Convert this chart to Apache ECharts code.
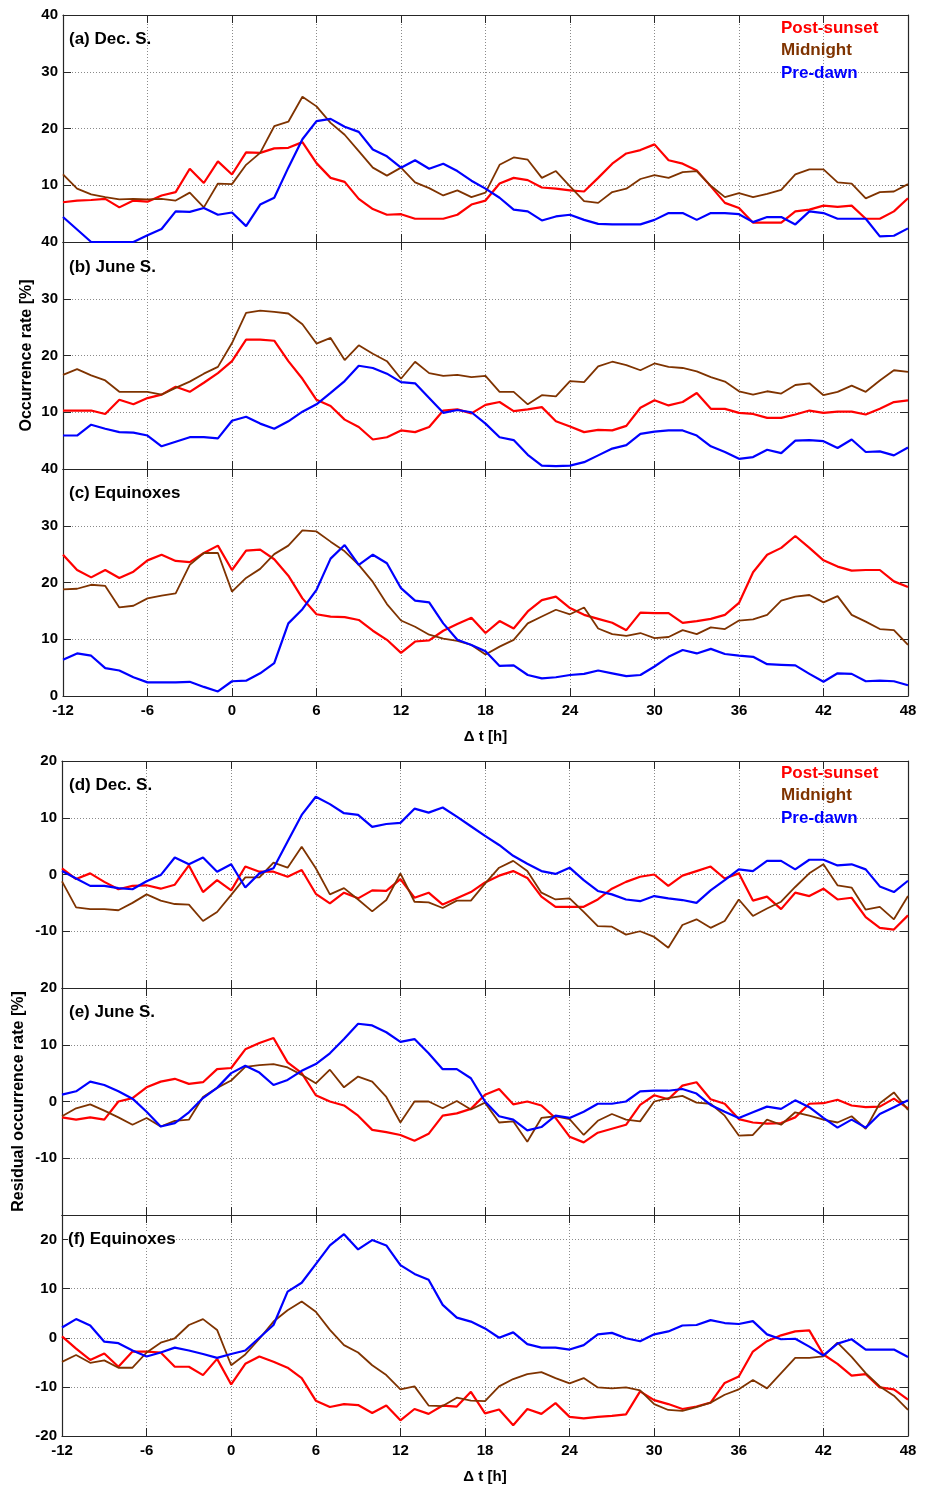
<!DOCTYPE html>
<html>
<head>
<meta charset="utf-8">
<script src="https://cdn.jsdelivr.net/npm/echarts@6/dist/echarts.min.js"></script>
<style>
  html, body { margin: 0; padding: 0; background: #fff; }
  #main { width: 926px; height: 1485px; }
</style>
</head>
<body>
<div id="main"></div>
<script>
const hours = [-12, -11, -10, -9, -8, -7, -6, -5, -4, -3, -2, -1, 0, 1, 2, 3, 4, 5, 6, 7,
  8, 9, 10, 11, 12, 13, 14, 15, 16, 17, 18, 19, 20, 21, 22, 23, 24, 25, 26, 27,
  28, 29, 30, 31, 32, 33, 34, 35, 36, 37, 38, 39, 40, 41, 42, 43, 44, 45, 46, 47, 48];

const seriesNames = ['Post-sunset', 'Midnight', 'Pre-dawn'];

// occurrence rate [%]
const decPost = [7.0, 7.3, 7.4, 7.6, 6.1, 7.3, 7.1, 8.2, 8.8, 12.9,
  10.4, 14.2, 11.9, 15.8, 15.7, 16.5, 16.6, 17.6, 13.9, 11.3,
  10.6, 7.6, 5.8, 4.8, 4.9, 4.1, 4.1, 4.1, 4.8, 6.6,
  7.3, 10.3, 11.3, 10.9, 9.6, 9.4, 9.1, 8.9, 11.3, 13.8,
  15.6, 16.2, 17.2, 14.4, 13.8, 12.6, 9.8, 6.9, 6.0, 3.4,
  3.4, 3.4, 5.4, 5.7, 6.4, 6.2, 6.4, 4.1, 4.1, 5.4, 7.7];
const decMid = [11.9, 9.4, 8.4, 7.9, 7.5, 7.6, 7.5, 7.6, 7.3, 8.7,
  6.1, 10.3, 10.2, 13.6, 15.7, 20.4, 21.2, 25.6, 23.9, 21.0,
  18.9, 16.0, 13.1, 11.7, 13.1, 10.5, 9.5, 8.2, 9.1, 7.9,
  8.7, 13.6, 14.9, 14.5, 11.3, 12.5, 9.8, 7.2, 6.9, 8.8,
  9.4, 11.1, 11.8, 11.3, 12.3, 12.5, 9.9, 7.9, 8.6, 7.9,
  8.5, 9.2, 11.9, 12.8, 12.8, 10.5, 10.3, 7.7, 8.8, 8.9, 10.2];
const decPre = [4.4, 2.2, 0, 0, 0, 0, 1.2, 2.3, 5.4, 5.3,
  6.0, 4.8, 5.2, 2.8, 6.6, 7.8, 13.1, 18.1, 21.3, 21.7,
  20.3, 19.4, 16.3, 15.1, 13.1, 14.4, 12.9, 13.8, 12.5, 10.8,
  9.4, 7.8, 5.7, 5.4, 3.8, 4.5, 4.8, 3.9, 3.2, 3.1,
  3.1, 3.1, 3.9, 5.1, 5.1, 3.9, 5.1, 5.1, 4.9, 3.5,
  4.4, 4.4, 3.1, 5.4, 5.1, 4.1, 4.1, 4.1, 1.0, 1.1, 2.4];

const junPost = [10.3, 10.3, 10.3, 9.7, 12.2, 11.4, 12.5, 13.1, 14.5, 13.6,
  15.2, 16.9, 19.0, 22.8, 22.8, 22.6, 19.0, 15.9, 12.2, 11.1,
  8.7, 7.4, 5.2, 5.6, 6.8, 6.5, 7.4, 10.3, 10.5, 9.8,
  11.3, 11.8, 10.2, 10.5, 10.9, 8.4, 7.5, 6.5, 6.9, 6.8,
  7.6, 10.8, 12.1, 11.2, 11.8, 13.4, 10.6, 10.6, 9.9, 9.7,
  9.0, 9.0, 9.6, 10.3, 9.9, 10.1, 10.1, 9.6, 10.6, 11.8, 12.1];
const junMid = [16.6, 17.6, 16.5, 15.6, 13.6, 13.6, 13.6, 13.1, 14.3, 15.4,
  16.8, 18.0, 22.2, 27.5, 27.9, 27.7, 27.4, 25.5, 22.1, 23.1,
  19.2, 21.8, 20.3, 19.0, 15.9, 18.9, 16.9, 16.4, 16.6, 16.2,
  16.4, 13.6, 13.6, 11.4, 13.0, 12.8, 15.5, 15.3, 18.1, 18.9,
  18.3, 17.4, 18.6, 18.0, 17.8, 17.2, 16.2, 15.4, 13.7, 13.1,
  13.7, 13.3, 14.8, 15.1, 13.0, 13.6, 14.7, 13.6, 15.6, 17.4, 17.1];
const junPre = [5.9, 5.9, 7.8, 7.1, 6.5, 6.4, 5.9, 4.0, 4.8, 5.6,
  5.6, 5.4, 8.5, 9.2, 8.0, 7.1, 8.4, 10.1, 11.4, 13.4,
  15.5, 18.2, 17.8, 16.8, 15.3, 15.1, 12.5, 9.9, 10.4, 10.0,
  8.0, 5.6, 5.1, 2.5, 0.6, 0.5, 0.6, 1.2, 2.4, 3.6,
  4.2, 6.2, 6.6, 6.8, 6.8, 5.9, 4.0, 3.0, 1.8, 2.1,
  3.4, 2.8, 5.0, 5.1, 4.9, 3.7, 5.2, 3.0, 3.1, 2.4, 3.8];

const eqxPost = [24.9, 22.2, 20.9, 22.2, 20.8, 21.9, 23.9, 24.9, 23.8, 23.6,
  25.2, 26.5, 22.2, 25.6, 25.8, 24.1, 21.2, 17.2, 14.4, 14.0,
  13.9, 13.4, 11.5, 9.9, 7.6, 9.6, 9.8, 11.5, 12.7, 13.8,
  11.1, 13.2, 11.9, 14.9, 16.9, 17.5, 15.5, 14.3, 13.6, 12.9,
  11.6, 14.7, 14.6, 14.6, 12.9, 13.2, 13.6, 14.3, 16.4, 21.8,
  24.9, 26.1, 28.2, 26.1, 23.9, 22.8, 22.1, 22.2, 22.2, 20.2, 19.2];
const eqxMid = [18.8, 18.9, 19.6, 19.4, 15.6, 15.9, 17.2, 17.7, 18.1, 23.1,
  25.2, 25.2, 18.4, 20.8, 22.4, 25.0, 26.5, 29.2, 29.0, 27.2,
  25.5, 23.1, 20.1, 16.2, 13.3, 12.2, 10.8, 10.1, 9.7, 9.0,
  7.3, 8.7, 9.9, 12.8, 14.0, 15.2, 14.4, 15.6, 11.9, 10.9,
  10.6, 11.1, 10.2, 10.4, 11.6, 10.9, 12.1, 11.8, 13.3, 13.5,
  14.3, 16.8, 17.5, 17.8, 16.5, 17.6, 14.3, 13.1, 11.8, 11.6, 9.0];
const eqxPre = [6.4, 7.5, 7.1, 4.9, 4.5, 3.3, 2.4, 2.4, 2.4, 2.5,
  1.6, 0.8, 2.6, 2.7, 4.0, 5.8, 12.8, 15.3, 18.7, 24.2,
  26.6, 23.1, 24.9, 23.4, 19.0, 16.8, 16.5, 12.8, 9.9, 9.0,
  7.9, 5.3, 5.4, 3.7, 3.1, 3.3, 3.7, 3.9, 4.5, 4.0,
  3.5, 3.7, 5.2, 6.9, 8.1, 7.5, 8.3, 7.4, 7.1, 6.9,
  5.6, 5.5, 5.4, 3.9, 2.5, 4.0, 3.9, 2.6, 2.7, 2.6, 1.9];

// residual occurrence rate [%]
const resDecPost = [1.1, -0.8, 0.2, -1.3, -2.6, -2.0, -1.9, -2.5, -1.8, 1.6,
  -3.1, -1.0, -2.8, 1.4, 0.5, 0.5, -0.4, 0.8, -3.4, -5.1,
  -3.2, -4.2, -2.8, -2.9, -0.8, -4.1, -3.2, -5.3, -4.2, -3.1,
  -1.4, -0.2, 0.6, -0.6, -3.9, -5.7, -5.7, -5.7, -4.4, -2.5,
  -1.3, -0.4, 0, -2.0, -0.2, 0.6, 1.4, -0.7, 0.2, -4.6,
  -3.9, -6.1, -3.2, -3.8, -2.5, -4.4, -4.1, -7.5, -9.4, -9.7, -7.2];
const resDecMid = [-1.2, -5.8, -6.1, -6.1, -6.3, -5.0, -3.5, -4.6, -5.2, -5.3,
  -8.2, -6.6, -3.6, -0.5, -0.5, 2.1, 1.2, 4.9, 1.1, -3.5,
  -2.4, -4.4, -6.5, -4.5, 0.2, -4.8, -4.9, -5.9, -4.6, -4.6,
  -1.6, 1.2, 2.4, 0.6, -3.2, -4.4, -4.2, -6.6, -9.1, -9.2,
  -10.6, -10.0, -11.0, -12.9, -8.9, -7.9, -9.4, -8.2, -4.4, -7.3,
  -6.0, -4.8, -2.2, 0.2, 1.8, -1.9, -2.3, -6.2, -5.7, -7.9, -3.8];
const resDecPre = [0.6, -0.7, -2.0, -2.0, -2.4, -2.6, -1.2, -0.1, 3.0, 1.8,
  3.0, 0.5, 1.8, -2.3, 0.2, 1.1, 5.8, 10.5, 13.7, 12.4,
  10.8, 10.5, 8.4, 8.9, 9.1, 11.6, 10.9, 11.8, 10.2, 8.5,
  6.8, 5.2, 3.3, 1.9, 0.6, 0.1, 1.2, -1.0, -2.9, -3.5,
  -4.4, -4.7, -3.8, -4.2, -4.5, -5.0, -2.8, -1.0, 0.9, 0.6,
  2.4, 2.4, 0.9, 2.6, 2.6, 1.6, 1.8, 0.9, -2.1, -3.1, -1.1];

const resJunPost = [-2.8, -3.2, -2.8, -3.2, 0, 0.6, 2.5, 3.5, 4.0, 3.1,
  3.4, 5.7, 5.9, 9.2, 10.3, 11.2, 6.9, 5.0, 1.1, 0,
  -0.7, -2.5, -5.0, -5.4, -5.9, -6.9, -5.7, -2.5, -2.1, -1.3,
  1.2, 2.2, -0.5, 0, -0.7, -2.9, -6.2, -7.2, -5.5, -4.8,
  -4.1, -0.6, 1.1, 0.4, 2.8, 3.4, 0.4, -0.4, -3.1, -3.7,
  -3.9, -3.8, -2.8, -0.4, -0.3, 0.3, -0.7, -1.0, -0.9, 0.5, -1.2];
const resJunMid = [-2.6, -1.2, -0.5, -1.6, -2.8, -4.1, -2.9, -4.4, -3.4, -3.2,
  0.8, 2.4, 3.7, 6.1, 6.4, 6.6, 6.0, 4.7, 3.2, 5.6,
  2.5, 4.4, 3.5, 0.8, -3.7, 0, 0, -1.2, 0.1, -1.4,
  -0.2, -3.7, -3.5, -7.1, -2.9, -2.6, -3.1, -5.9, -3.4, -2.2,
  -3.2, -3.5, 0, 0.6, 1.0, -0.2, -0.4, -2.5, -6.0, -5.9,
  -3.2, -4.1, -1.9, -2.5, -3.2, -3.7, -2.6, -4.8, -0.3, 1.6, -1.5];
const resJunPre = [1.2, 1.8, 3.5, 2.9, 1.8, 0.5, -1.8, -4.4, -3.8, -1.9,
  0.6, 2.4, 5.0, 6.3, 5.1, 2.9, 3.8, 5.4, 6.6, 8.5,
  11.0, 13.7, 13.4, 12.2, 10.5, 11.0, 8.5, 5.7, 5.7, 4.1,
  0, -2.6, -3.2, -5.1, -4.5, -2.5, -2.9, -1.8, -0.4, -0.4,
  0, 1.8, 1.9, 1.9, 2.2, 1.4, -0.6, -1.8, -2.9, -1.9,
  -0.9, -1.3, 0.2, -1.0, -2.9, -4.6, -3.2, -4.6, -2.2, -1.0, 0.2];

const resEqxPost = [0.3, -2.2, -4.5, -3.2, -5.9, -2.8, -2.8, -3.0, -5.9, -5.9,
  -7.6, -4.3, -9.5, -5.3, -3.8, -4.9, -6.1, -8.2, -12.8, -14.1,
  -13.5, -13.7, -15.3, -13.8, -16.8, -14.5, -15.5, -13.8, -14.0, -11.0,
  -15.4, -14.6, -17.8, -14.5, -15.5, -13.3, -16.1, -16.4, -16.1, -15.9,
  -15.6, -10.9, -12.7, -13.5, -14.5, -14.0, -13.2, -9.2, -7.9, -2.8,
  -0.7, 0.5, 1.3, 1.5, -3.4, -5.3, -7.7, -7.4, -10.1, -10.5, -12.6];
const resEqxMid = [-4.9, -3.5, -5.1, -4.6, -6.1, -6.1, -3.0, -1.0, -0.1, 2.6,
  3.8, 1.6, -5.6, -3.4, -0.2, 3.3, 5.6, 7.4, 5.3, 1.6,
  -1.5, -3.0, -5.6, -7.6, -10.5, -9.9, -13.8, -13.9, -12.2, -12.8,
  -12.9, -9.9, -8.4, -7.4, -7.0, -8.2, -9.3, -8.2, -10.1, -10.3,
  -10.1, -10.7, -13.5, -14.7, -14.9, -14.1, -13.2, -11.6, -10.5, -8.6,
  -10.3, -7.2, -4.1, -4.1, -3.8, -1.0, -3.9, -7.2, -9.9, -11.8, -14.7];
const resEqxPre = [2.1, 3.8, 2.5, -0.8, -1.1, -2.6, -3.8, -3.0, -2.0, -2.6,
  -3.3, -4.1, -3.3, -2.6, 0, 2.6, 9.4, 11.2, 15.0, 18.8,
  21.1, 18.0, 19.9, 18.8, 14.8, 13.0, 11.8, 6.7, 4.1, 3.3,
  1.9, 0, 1.1, -1.3, -2.0, -2.0, -2.4, -1.5, 0.7, 1.0,
  -0.1, -0.7, 0.7, 1.3, 2.5, 2.6, 3.6, 3.0, 2.8, 3.4,
  0.7, -0.3, -0.2, -1.8, -3.6, -1.2, -0.3, -2.4, -2.4, -2.4, -3.9];

const panels = [
  { label: '(a) Dec. S.', min: 0, max: 40, lines: [decPost, decMid, decPre] },
  { label: '(b) June S.', min: 0, max: 40, lines: [junPost, junMid, junPre] },
  { label: '(c) Equinoxes', min: 0, max: 40, lines: [eqxPost, eqxMid, eqxPre] },
  { label: '(d) Dec. S.', min: -20, max: 20, lines: [resDecPost, resDecMid, resDecPre] },
  { label: '(e) June S.', min: -20, max: 20, lines: [resJunPost, resJunMid, resJunPre] },
  { label: '(f) Equinoxes', min: -20, max: 25, lines: [resEqxPost, resEqxMid, resEqxPre] },
];

const font = '"Liberation Sans", Arial, sans-serif';
const colors = ['#ff0000', '#7f3300', '#0000ff'];
const widths = [2.2, 1.8, 2.2];
const frame = '#262626';

const boxes = [
  { left: 63, top: 15, width: 845, height: 227 },
  { left: 63, top: 242, width: 845, height: 227 },
  { left: 63, top: 469, width: 845, height: 227 },
  { left: 62, top: 761, width: 846, height: 227 },
  { left: 62, top: 988, width: 846, height: 227 },
  { left: 62, top: 1215, width: 846, height: 228 },
];
const labelTops = [31, 258.5, 485, 776.5, 1004, 1231];
const labelLefts = [69, 69, 69, 69, 69, 68];

const tick = { show: true, inside: true, length: 8, lineStyle: { color: frame, width: 1 } };
const line = { show: true, onZero: false, lineStyle: { color: frame, width: 1.2 } };
const grid = { show: true, lineStyle: { color: '#8a8a8a', width: 1, type: [1, 2] } };
const bold = { color: '#000', fontFamily: font, fontWeight: 'bold', fontSize: 15 };
const big = Object.assign({}, bold, { fontSize: 17 });
const axisTitle = Object.assign({}, bold, { fontSize: 16 });

const xAxis = [], yAxis = [], series = [], title = [];

panels.forEach((p, i) => {
  const withX = i === 2 || i === 5;
  xAxis.push({
    gridIndex: i, type: 'value', min: -12, max: 48, interval: 6,
    axisLine: line, axisTick: tick, splitLine: grid,
    axisLabel: Object.assign({ show: withX, margin: 7 }, bold),
    name: withX ? 'Δ t [h]' : '', nameLocation: 'middle', nameGap: 33,
    nameTextStyle: bold,
  });
  yAxis.push({
    gridIndex: i, type: 'value', min: p.min, max: p.max, interval: 10,
    axisLine: line, axisTick: tick, splitLine: grid,
    axisLabel: Object.assign({ margin: 5, showMinLabel: i === 2 || i === 5, showMaxLabel: i !== 5 }, bold),
    name: i === 1 ? 'Occurrence rate [%]' : (i === 4 ? 'Residual occurrence rate [%]' : ''),
    nameLocation: 'middle', nameGap: i === 1 ? 28 : 35, nameMoveOverlap: false,
    nameTextStyle: axisTitle,
  });
  title.push({
    text: p.label, left: labelLefts[i], top: labelTops[i], padding: 0,
    backgroundColor: i === 5 ? '#fff' : 'transparent',
    textStyle: big,
  });
  p.lines.forEach((vals, k) => {
    series.push({
      name: seriesNames[k], type: 'line', xAxisIndex: i, yAxisIndex: i,
      data: hours.map((h, j) => [h, vals[j]]),
      showSymbol: false, symbol: 'none', clip: false,
      lineStyle: { color: colors[k], width: widths[k] },
      itemStyle: { color: colors[k] },
      z: 3 + k,
    });
  });
});

// mirrored top / right axes so every panel is boxed with ticks on all sides
panels.forEach((p, i) => {
  xAxis.push({
    gridIndex: i, type: 'value', position: 'top', min: -12, max: 48, interval: 6,
    axisLine: line, axisTick: tick, splitLine: { show: false }, axisLabel: { show: false },
  });
  yAxis.push({
    gridIndex: i, type: 'value', position: 'right', min: p.min, max: p.max, interval: 10,
    axisLine: line, axisTick: tick, splitLine: { show: false }, axisLabel: { show: false },
  });
});

const legendData = seriesNames.map((n, k) => ({
  name: n, icon: 'none', textStyle: { color: colors[k] },
}));
const legendBase = {
  orient: 'vertical', left: 776, padding: 0, itemGap: 5.5, itemWidth: 0, itemHeight: 17,
  selectedMode: false, data: legendData,
  textStyle: { fontFamily: font, fontWeight: 'bold', fontSize: 17 },
};

const chart = echarts.init(document.getElementById('main'), null, { renderer: 'canvas' });
chart.setOption({
  animation: false,
  backgroundColor: '#fff',
  grid: boxes.map(b => Object.assign({ containLabel: false }, b)),
  title,
  legend: [
    Object.assign({ top: 19.5 }, legendBase),
    Object.assign({ top: 764.5 }, legendBase),
  ],
  xAxis,
  yAxis,
  series,
});
</script>
</body>
</html>
